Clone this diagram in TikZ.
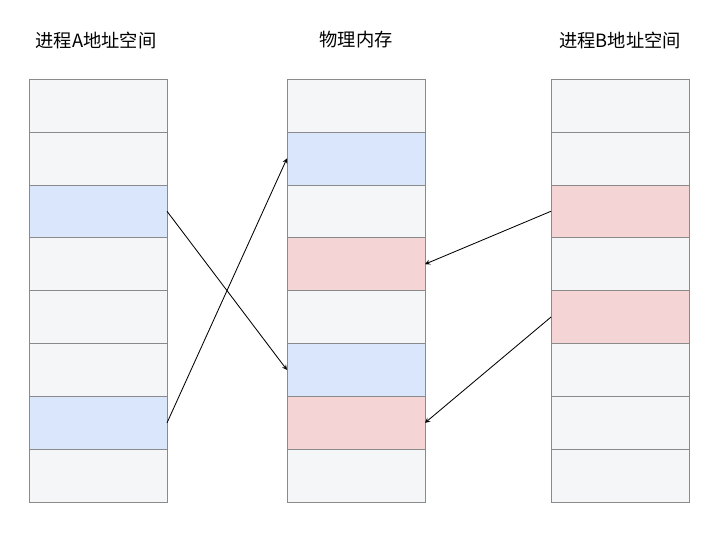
\documentclass[tikz,border=0pt]{standalone}
\usepackage{fontspec}
\newfontfamily\cjk{Noto Sans CJK SC}
\definecolor{cellgray}{HTML}{F5F6F8}
\definecolor{cellblue}{HTML}{DAE6FB}
\definecolor{cellred}{HTML}{F4D4D4}
\definecolor{cellline}{HTML}{8A8A8A}
\tikzset{
  cell/.style={draw=cellline, fill=cellgray, minimum width=138*0.025cm,
    minimum height=52.9*0.025cm, inner sep=0pt, outer sep=0pt},
  title/.style={font=\cjk\fontsize{13}{16}\selectfont},
  link/.style={->, >=stealth, semithick}
}
\begin{document}
\begin{tikzpicture}[x=0.025cm, y=-0.025cm]
\useasboundingbox (0,0) rectangle (720,533);
% three columns of eight cells
\foreach \col/\xc in {a/98, m/356, b/620}
  \foreach \i in {1,...,8}
    \node (\col\i) [cell] at (\xc, {79+(\i-0.5)*52.9}) {};
% coloured cells
\foreach \c in {a3, a7, m2, m6}
  \node [cell, fill=cellblue] at (\c) {};
\foreach \c in {b3, b5, m4, m7}
  \node [cell, fill=cellred] at (\c) {};
\node (ta) [title] at (96,40) {进程A地址空间};
\node (tm) [title] at (356,40) {物理内存};
\node (tb) [title] at (620,40) {进程B地址空间};
% mappings
\draw[link] (a3.east) -- (m6.west);
\draw[link] (a7.east) -- (m2.west);
\draw[link] (b3.west) -- (m4.east);
\draw[link] (b5.west) -- (m7.east);
\end{tikzpicture}
\end{document}
